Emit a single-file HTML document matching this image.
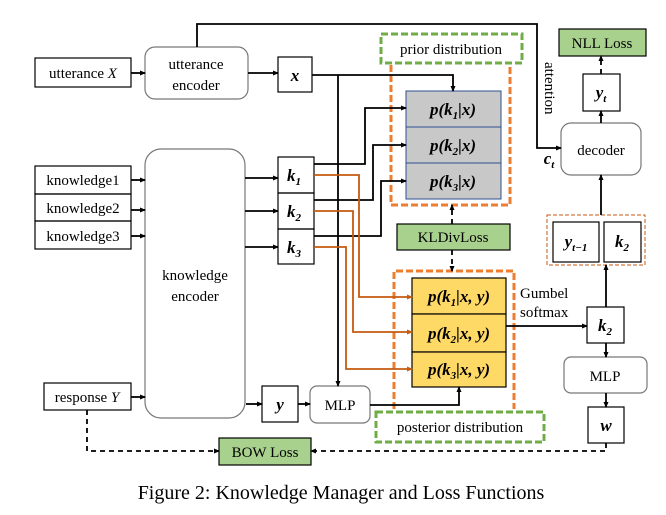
<!DOCTYPE html>
<html><head><meta charset="utf-8"><style>
html,body{margin:0;padding:0;background:#fff}
svg{display:block}
text{font-family:"Liberation Serif",serif;fill:#000}
.b{font-weight:bold;font-style:italic}
</style></head><body>
<svg width="666" height="515" viewBox="0 0 666 515" xmlns="http://www.w3.org/2000/svg">
<defs>
<marker id="a" markerWidth="6" markerHeight="6" refX="5" refY="3" orient="auto" markerUnits="userSpaceOnUse"><path d="M0,0.5 L6,3 L0,5.5z" fill="#000"/></marker>
<marker id="o" markerWidth="6" markerHeight="6" refX="5" refY="3" orient="auto" markerUnits="userSpaceOnUse"><path d="M0,0.5 L6,3 L0,5.5z" fill="#c55a11"/></marker>
</defs>
<g fill="none" stroke="#000" stroke-width="1.2">
<rect x="35" y="58" width="96" height="29"/>
<rect x="145" y="47" width="103" height="52" rx="10" stroke="#777"/>
<rect x="278" y="57" width="34" height="35"/>
<rect x="35" y="166" width="96" height="28"/>
<rect x="35" y="194" width="96" height="27"/>
<rect x="35" y="221" width="96" height="28"/>
<rect x="145" y="149" width="100" height="269" rx="16" stroke="#777"/>
<rect x="278" y="157" width="36" height="36"/>
<rect x="278" y="193" width="36" height="36"/>
<rect x="278" y="229" width="36" height="35"/>
<rect x="44" y="383" width="87" height="27"/>
<rect x="262" y="386" width="36" height="36"/>
<rect x="310" y="386" width="60" height="37" rx="7" stroke="#777"/>
<rect x="561" y="123" width="80" height="52" rx="10" stroke="#777"/>
<rect x="583" y="74" width="37" height="37"/>
<rect x="553" y="222" width="46" height="40"/>
<rect x="604" y="222" width="37" height="40"/>
<rect x="587" y="307" width="37" height="36"/>
<rect x="564" y="357" width="83" height="36" rx="7" stroke="#777"/>
<rect x="588" y="407" width="36" height="36"/>
</g>
<rect x="547" y="215" width="98" height="50" fill="none" stroke="#c55a11" stroke-width="1" stroke-dasharray="4,2"/>
<!-- gray prior -->
<g stroke="#2f4f8f" stroke-width="1" fill="#c8c8c8">
<rect x="406" y="91" width="95" height="36"/><rect x="406" y="127" width="95" height="36"/><rect x="406" y="163" width="95" height="36"/>
</g>
<g stroke="#000" stroke-width="1.2" fill="#ffd966">
<rect x="412" y="278" width="94" height="36"/><rect x="412" y="314" width="94" height="38"/><rect x="412" y="352" width="94" height="35"/>
</g>
<!-- green boxes -->
<g fill="#a9d18e" stroke="#000" stroke-width="1.2">
<rect x="559" y="29" width="87" height="27"/>
<rect x="397" y="224" width="113" height="26"/>
<rect x="219" y="438" width="92" height="27"/>
</g>
<g fill="none" stroke="#70ad47" stroke-width="3" stroke-dasharray="7,3">
<rect x="381" y="34" width="141" height="29"/>
<rect x="376" y="412" width="168" height="30"/>
</g>
<g fill="none" stroke="#ed7d31" stroke-width="3" stroke-dasharray="7,3">
<path d="M391,65 V205 H510 V65"/>
<path d="M394,409 V271 H514 V409"/>
</g>
<!-- black connectors -->
<g fill="none" stroke="#000" stroke-width="1.8">
<path d="M131,73 H145" marker-end="url(#a)"/>
<path d="M248,73 H278" marker-end="url(#a)"/>
<path d="M131,180 H145" marker-end="url(#a)"/>
<path d="M131,210 H145" marker-end="url(#a)"/>
<path d="M131,236 H145" marker-end="url(#a)"/>
<path d="M245,178 H278" marker-end="url(#a)"/>
<path d="M245,211 H278" marker-end="url(#a)"/>
<path d="M245,247 H278" marker-end="url(#a)"/>
<path d="M131,397 H145" marker-end="url(#a)"/>
<path d="M246,404 H262" marker-end="url(#a)"/>
<path d="M298,404 H310" marker-end="url(#a)"/>
<path d="M197,47 V24 H537 V148 H561" marker-end="url(#a)"/>
<path d="M312,75 H453 V91" marker-end="url(#a)"/>
<path d="M338,75 V386" marker-end="url(#a)"/>
<path d="M314,164 H365 V108 H406" marker-end="url(#a)"/>
<path d="M314,200 H373 V145 H406" marker-end="url(#a)"/>
<path d="M314,236 H381 V181 H406" marker-end="url(#a)"/>
<path d="M370,405 H459 V387" marker-end="url(#a)"/>
<path d="M506,326 H587" marker-end="url(#a)"/>
<path d="M606,307 V265" marker-end="url(#a)"/>
<path d="M606,343 V357" marker-end="url(#a)"/>
<path d="M606,393 V407" marker-end="url(#a)"/>
<path d="M601,215 V175" marker-end="url(#a)"/>
<path d="M601,123 V111" marker-end="url(#a)"/>
</g>
<g fill="none" stroke="#000" stroke-width="1.8" stroke-dasharray="5,4">
<path d="M601,74 V56" marker-end="url(#a)"/>
<path d="M452,224 V205" marker-end="url(#a)"/>
<path d="M452,250 V271" marker-end="url(#a)"/>
<path d="M87,410 V451 H219" marker-end="url(#a)"/>
<path d="M606,443 V451 H311" marker-end="url(#a)"/>
</g>
<g fill="none" stroke="#c55a11" stroke-width="1.8">
<path d="M314,175 H359 V297 H412" marker-end="url(#o)"/>
<path d="M314,211 H353 V332 H412" marker-end="url(#o)"/>
<path d="M314,247 H346 V369 H412" marker-end="url(#o)"/>
</g>
<!-- text -->
<g font-size="15">
<text x="83" y="78" text-anchor="middle">utterance <tspan font-style="italic">X</tspan></text>
<text x="196" y="69" text-anchor="middle">utterance</text>
<text x="196" y="90" text-anchor="middle">encoder</text>
<text x="83" y="185" text-anchor="middle">knowledge1</text>
<text x="83" y="213" text-anchor="middle">knowledge2</text>
<text x="83" y="241" text-anchor="middle">knowledge3</text>
<text x="195" y="280" text-anchor="middle">knowledge</text>
<text x="195" y="301" text-anchor="middle">encoder</text>
<text x="87" y="402" text-anchor="middle">response <tspan font-style="italic">Y</tspan></text>
<text x="340" y="410" text-anchor="middle">MLP</text>
<text x="601" y="155" text-anchor="middle">decoder</text>
<text x="605" y="381" text-anchor="middle">MLP</text>
<text x="602" y="48" text-anchor="middle">NLL Loss</text>
<text x="453" y="242" text-anchor="middle">KLDivLoss</text>
<text x="265" y="457" text-anchor="middle">BOW Loss</text>
<text x="451" y="54" text-anchor="middle">prior distribution</text>
<text x="460" y="432" text-anchor="middle">posterior distribution</text>
<text x="520" y="298">Gumbel</text>
<text x="520" y="317">softmax</text>
<text transform="translate(545,62) rotate(90)">attention</text>
</g>
<g font-size="17" class="b">
<text class="b" x="295" y="81" text-anchor="middle">x</text>
<text class="b" x="294" y="181" text-anchor="middle">k<tspan font-size="11" dy="4">1</tspan></text>
<text class="b" x="294" y="217" text-anchor="middle">k<tspan font-size="11" dy="4">2</tspan></text>
<text class="b" x="294" y="253" text-anchor="middle">k<tspan font-size="11" dy="4">3</tspan></text>
<text class="b" x="280" y="410" text-anchor="middle">y</text>
<text class="b" x="601" y="98" text-anchor="middle">y<tspan font-size="11" dy="4">t</tspan></text>
<text class="b" x="576" y="247" text-anchor="middle">y<tspan font-size="11" dy="4">t−1</tspan></text>
<text class="b" x="622" y="247" text-anchor="middle">k<tspan font-size="11" dy="4">2</tspan></text>
<text class="b" x="605" y="331" text-anchor="middle">k<tspan font-size="11" dy="4">2</tspan></text>
<text class="b" x="606" y="431" text-anchor="middle">w</text>
<text class="b" x="549" y="164" text-anchor="middle">c<tspan font-size="11" dy="4">t</tspan></text>
<text class="b" x="453" y="115" text-anchor="middle">p(k<tspan font-size="11" dy="4">1</tspan><tspan dy="-4">|x)</tspan></text>
<text class="b" x="453" y="151" text-anchor="middle">p(k<tspan font-size="11" dy="4">2</tspan><tspan dy="-4">|x)</tspan></text>
<text class="b" x="453" y="187" text-anchor="middle">p(k<tspan font-size="11" dy="4">3</tspan><tspan dy="-4">|x)</tspan></text>
<text class="b" x="459" y="302" text-anchor="middle">p(k<tspan font-size="11" dy="4">1</tspan><tspan dy="-4">|x, y)</tspan></text>
<text class="b" x="459" y="339" text-anchor="middle">p(k<tspan font-size="11" dy="4">2</tspan><tspan dy="-4">|x, y)</tspan></text>
<text class="b" x="459" y="375" text-anchor="middle">p(k<tspan font-size="11" dy="4">3</tspan><tspan dy="-4">|x, y)</tspan></text>
</g>
<text x="341" y="499" font-size="20" text-anchor="middle">Figure 2: Knowledge Manager and Loss Functions</text>
</svg>
</body></html>
